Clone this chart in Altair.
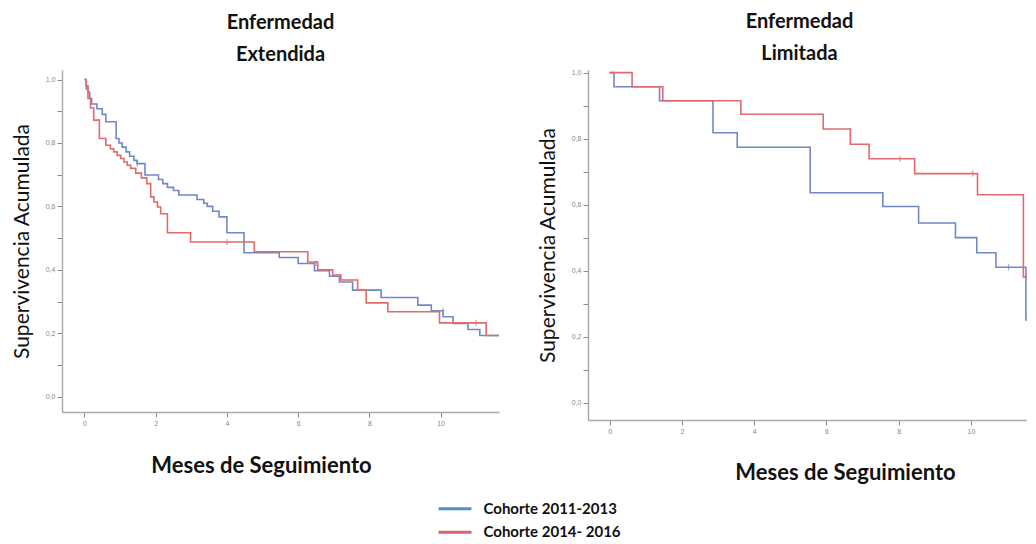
import altair as alt
import pandas as pd

SERIES = ["Cohorte 2011-2013", "Cohorte 2014- 2016"]
LINE_COLORS = ["#7088c8", "#e06a6c"]
LEGEND_COLORS = ["#4f8fcb", "#d9666f"]

# Enfermedad Extendida
ext_blue_t = [0, 0.05, 0.1, 0.15, 0.2, 0.35, 0.5, 0.6, 0.89, 0.97, 1.06, 1.17, 1.27, 1.39, 1.48,
              1.70, 2.08, 2.2, 2.33, 2.5, 2.65, 3.16, 3.35, 3.45, 3.6, 3.78, 4.0, 4.48, 5.47, 6.0,
              6.46, 6.88, 7.16, 7.53, 8.33, 9.36, 9.74, 10.07, 10.35, 10.77, 11.1, 11.64]
ext_blue_s = [1.0, 0.98, 0.96, 0.94, 0.923, 0.908, 0.89, 0.867, 0.814, 0.8, 0.787, 0.772, 0.758, 0.745, 0.735,
              0.699, 0.685, 0.672, 0.66, 0.65, 0.636, 0.622, 0.61, 0.6, 0.585, 0.567, 0.517, 0.454, 0.439, 0.42,
              0.397, 0.38, 0.362, 0.336, 0.313, 0.289, 0.271, 0.252, 0.231, 0.212, 0.193, 0.193]
ext_red_t = [0, 0.05, 0.1, 0.17, 0.26, 0.42, 0.6, 0.73, 0.82, 0.92, 1.02, 1.11, 1.2, 1.3, 1.44, 1.6, 1.75,
             1.86, 1.95, 2.05, 2.14, 2.33, 2.98, 4.77, 6.27, 6.55, 6.97, 7.2, 7.67, 7.91, 8.52, 9.97, 11.28, 11.64]
ext_red_s = [1.0, 0.97, 0.94, 0.91, 0.872, 0.814, 0.793, 0.782, 0.772, 0.761, 0.751, 0.74, 0.73, 0.72, 0.705, 0.69, 0.672,
             0.63, 0.614, 0.598, 0.577, 0.517, 0.488, 0.457, 0.425, 0.4, 0.384, 0.368, 0.336, 0.296, 0.268, 0.233, 0.193, 0.193]
ext_cens_t = [1.48, 6.5, 10.07, 4.0, 11.0]
ext_cens_s = [0.735, 0.42, 0.271, 0.488, 0.233]
ext_cens_c = [SERIES[0], SERIES[0], SERIES[0], SERIES[1], SERIES[1]]

# Enfermedad Limitada
lim_blue_t = [0, 0.12, 1.38, 2.86, 3.53, 5.55, 7.56, 8.55, 9.57, 10.16, 10.69, 11.52, 11.6]
lim_blue_s = [1.0, 0.957, 0.915, 0.818, 0.774, 0.636, 0.594, 0.544, 0.5, 0.454, 0.41, 0.25, 0.25]
lim_red_t = [0, 0.62, 1.47, 3.63, 5.91, 6.66, 7.18, 8.44, 10.18, 11.45, 11.6]
lim_red_s = [1.0, 0.957, 0.915, 0.874, 0.829, 0.783, 0.739, 0.694, 0.63, 0.381, 0.381]
lim_cens_t = [11.04, 8.04, 10.05]
lim_cens_s = [0.41, 0.739, 0.694]
lim_cens_c = [SERIES[0], SERIES[1], SERIES[1]]

Y_VALUES = [0.0, 0.1, 0.2, 0.3, 0.4, 0.5, 0.6, 0.7, 0.8, 0.9, 1.0]
X_VALUES = [0, 2, 4, 6, 8, 10]
FONT = "Lato"


def curves(bt, bs, rt, rs):
    return pd.concat([
        pd.DataFrame({"mes": bt, "surv": bs, "cohorte": SERIES[0]}),
        pd.DataFrame({"mes": rt, "surv": rs, "cohorte": SERIES[1]}),
    ])


line_color = alt.Color("cohorte:N", scale=alt.Scale(domain=SERIES, range=LINE_COLORS), legend=None)


def panel(df, cens, title, title_dx, xdom, ydom, w, h, xt_x, xt_y):
    x = alt.X(
        "mes:Q",
        scale=alt.Scale(domain=xdom, nice=False, zero=False),
        axis=alt.Axis(
            values=X_VALUES, title="Meses de Seguimiento", titleX=xt_x, titleY=xt_y,
            titleBaseline="middle", titleFont=FONT, titleFontSize=22, titleFontWeight="bold",
            titleColor="#111", labelFontSize=7, labelColor="#888", tickColor="#888", tickSize=5,
            domainColor="#aaa", domainWidth=1.5, grid=False, labelFlush=False,
        ),
    )
    y = alt.Y(
        "surv:Q",
        scale=alt.Scale(domain=ydom, nice=False, zero=False),
        axis=alt.Axis(
            values=Y_VALUES,
            labelExpr="(round(datum.value*10) % 2 == 0) ? replace(format(datum.value, '.1f'), '.', ',') : ''",
            title="Supervivencia Acumulada", titleFont=FONT, titleFontSize=21, titleFontWeight="normal",
            titleColor="#111", titlePadding=13, labelFontSize=7, labelColor="#888", tickColor="#888",
            tickSize=5, labelPadding=2, domainColor="#aaa", domainWidth=1.5, grid=False,
        ),
    )
    lines = alt.Chart(df).mark_line(interpolate="step-after", strokeWidth=1.6, clip=True).encode(
        x=x, y=y, color=line_color
    )
    ticks = alt.Chart(cens).mark_tick(orient="vertical", size=6, thickness=1.2, clip=True).encode(
        x=x, y=y, color=line_color
    )
    return alt.layer(lines, ticks).properties(
        width=w, height=h,
        title=alt.TitleParams(
            text=title, font=FONT, fontSize=20, fontWeight="bold", color="#111",
            anchor="middle", lineHeight=32, offset=5, dx=title_dx,
        ),
    )


left = panel(
    curves(ext_blue_t, ext_blue_s, ext_red_t, ext_red_s),
    pd.DataFrame({"mes": ext_cens_t, "surv": ext_cens_s, "cohorte": ext_cens_c}),
    ["Enfermedad", "Extendida"], 0,
    [-0.63, 11.64], [-0.048, 1.03], 437, 342, 199, 53,
)
right = panel(
    curves(lim_blue_t, lim_blue_s, lim_red_t, lim_red_s),
    pd.DataFrame({"mes": lim_cens_t, "surv": lim_cens_s, "cohorte": lim_cens_c}),
    ["Enfermedad", "Limitada"], -8,
    [-0.6, 11.55], [-0.053, 1.008], 439, 350, 257, 52,
)

# legend panel
legend_df = pd.DataFrame({"cohorte": SERIES})
leg_base = alt.Chart(legend_df).encode(
    y=alt.Y("cohorte:N", sort=SERIES, axis=None, scale=alt.Scale(type="point", padding=0.5)),
)
leg_rules = leg_base.mark_rule(strokeWidth=3).encode(
    x=alt.value(14), x2=alt.value(47),
    color=alt.Color("cohorte:N", scale=alt.Scale(domain=SERIES, range=LEGEND_COLORS), legend=None),
)
leg_text = leg_base.mark_text(
    align="left", baseline="middle", font=FONT, fontSize=15, fontWeight="bold", color="#111"
).encode(x=alt.value(59), text="cohorte:N")
legend_panel = alt.layer(leg_rules, leg_text).properties(width=240, height=47)

top = alt.hconcat(left, right, spacing=38)
chart = (
    alt.vconcat(top, legend_panel, spacing=14, center=True)
    .resolve_scale(color="independent")
    .properties(padding={"left": 3, "top": 3, "right": 0, "bottom": 0})
    .configure_view(stroke=None)
)

chart.save("out.html", embed_options={"renderer": "svg", "actions": False})
